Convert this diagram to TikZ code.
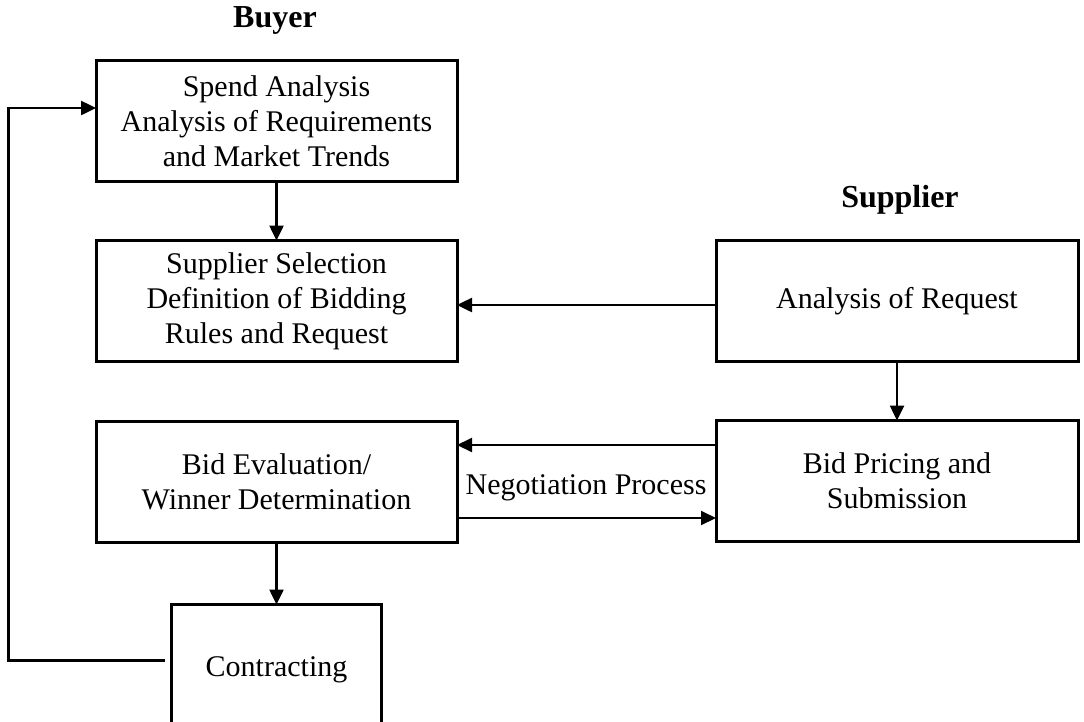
\documentclass[tikz,border=0pt]{standalone}
\usepackage{fontspec}
\setmainfont{Liberation Serif}
\usetikzlibrary{arrows.meta,positioning}

\begin{document}
\begin{tikzpicture}[
    x=1pt,y=-1pt,
    every node/.style={font=\fontsize{30}{35}\selectfont,align=center},
    box/.style={rectangle,draw,line width=3pt,outer sep=0pt,minimum width=361pt,minimum height=121pt},
    head/.style={font=\fontsize{32}{36}\selectfont\bfseries},
    arr/.style={-{Triangle[length=15pt,width=14pt]},line width=2.5pt}
  ]
    \useasboundingbox (0,0) rectangle (1084,721);
    \clip (0,0) rectangle (1084,721);
    \node[head] (buyer) at (275,20) {Buyer};
    \node[head] (supplier) at (900,200) {Supplier};
    \node[box] (spend) at (276.5,121) {Spend Analysis\\Analysis of Requirements\\and Market Trends};
    \node[box,below=59pt of spend] (select) {Supplier Selection\\Definition of Bidding\\Rules and Request};
    \node[box,below=60pt of select] (eval) {Bid Evaluation/\\Winner Determination};
    \node[box,right=259pt of select,minimum width=362pt] (request) {Analysis of Request};
    \node[box,below=59pt of request,minimum width=362pt] (pricing) {Bid Pricing and\\Submission};
    \node[box,below=62pt of eval,minimum width=210pt,minimum height=130pt] (contract) {Contracting};
    \node (nego) at (586,488) {Negotiation Process};
    \draw[arr] (spend) -- (select);
    \draw[arr] ([yshift=-4pt]request.west) -- ([yshift=-4pt]request.west -| select.east);
    \draw[arr] (request) -- (pricing);
    \draw[arr,line width=2pt] ([yshift=36pt]pricing.west) -- ([yshift=36pt]pricing.west -| eval.east);
    \draw[arr,line width=2pt] ([yshift=-37pt]pricing.west -| eval.east) -- ([yshift=-37pt]pricing.west);
    \draw[arr] (eval) -- (contract);
    \draw[arr] ([xshift=-7pt,yshift=9pt]contract.west) -- ++(-156pt,0) |- ([yshift=13pt]spend.west);
\end{tikzpicture}
\end{document}
